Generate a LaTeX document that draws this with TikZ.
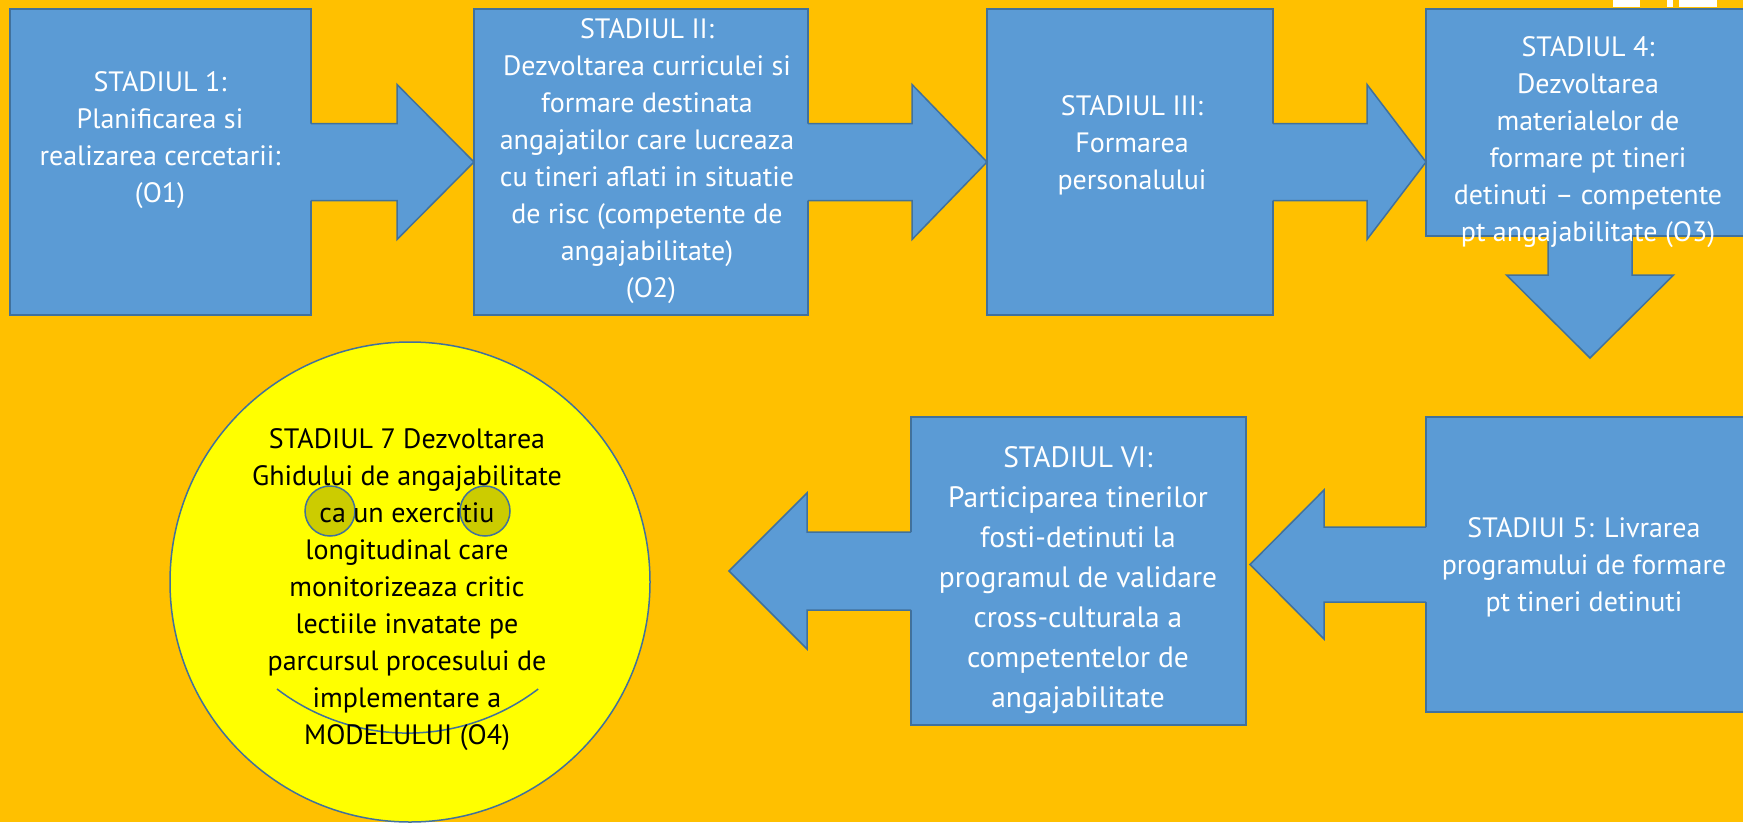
\documentclass[tikz,border=0pt]{standalone}
\usepackage{fontspec}
\setmainfont{PT Sans}
\usetikzlibrary{calc}
\definecolor{bg}{HTML}{FFC000}
\definecolor{boxblue}{HTML}{5B9BD5}
\definecolor{boxline}{HTML}{41719C}
\definecolor{eyefill}{HTML}{CCCC00}
\definecolor{faceyellow}{HTML}{FFFF00}
\begin{document}
\begin{tikzpicture}[x=1pt,y=1pt,
  stagebox/.style={rectangle, draw=boxline, fill=boxblue, line width=1.5pt, inner sep=0pt, outer sep=0pt},
  arrowfill/.style={fill=boxblue},
  arrowline/.style={draw=boxline, line width=1.5pt, line join=miter},
  stagetext/.style={text=white, align=center, font=\fontsize{28}{37}\selectfont, inner sep=0pt},
  facetext/.style={text=black, align=center, font=\fontsize{28}{37}\selectfont, inner sep=0pt},
  eye/.style={circle, draw=boxline, fill=eyefill, line width=1.5pt, minimum size=50pt, inner sep=0pt}]
\clip (0,0) rectangle (1743,-822);
\fill[bg] (0,0) rectangle (1743,-822);
\fill[white] (1613,0) rectangle (1640,-7);
\fill[white] (1667,0) rectangle (1673,-7);
\fill[white] (1679,0) rectangle (1717,-7);

% boxes
\node[stagebox, minimum width=301pt, minimum height=306pt] (b1) at (160.5,-162) {};
\node[stagebox, minimum width=334pt, minimum height=306pt] (b2) at (641,-162) {};
\node[stagebox, minimum width=286pt, minimum height=306pt] (b3) at (1130,-162) {};
\node[stagebox, minimum width=334pt, minimum height=227pt] (b4) at (1593,-122.5) {};
\node[stagebox, minimum width=334pt, minimum height=295pt] (b5) at (1593,-564.5) {};
\node[stagebox, minimum width=335pt, minimum height=308pt] (b6) at (1078.5,-571) {};

% arrow 1 -> 2
\fill[arrowfill] ($(b1.east)+(-4,38.5)$) -- ++(90,0) -- ++(0,39) -- (b2.west) -- ++(-77,-77.5) -- ++(0,39) -- ++(-90,0) -- cycle;
\draw[arrowline] ($(b1.east)+(0,38.5)$) -- ++(86,0) -- ++(0,39) -- (b2.west) -- ++(-77,-77.5) -- ++(0,39) -- ++(-86,0);
% arrow 2 -> 3
\fill[arrowfill] ($(b2.east)+(-4,38.5)$) -- ++(108,0) -- ++(0,39) -- (b3.west) -- ++(-75,-77.5) -- ++(0,39) -- ++(-108,0) -- cycle;
\draw[arrowline] ($(b2.east)+(0,38.5)$) -- ++(104,0) -- ++(0,39) -- (b3.west) -- ++(-75,-77.5) -- ++(0,39) -- ++(-104,0);
% arrow 3 -> 4
\coordinate (t3) at (b4.west |- b3.east);
\fill[arrowfill] ($(b3.east)+(-4,38.5)$) -- ++(98,0) -- ++(0,39) -- (t3) -- ++(-59,-77.5) -- ++(0,39) -- ++(-98,0) -- cycle;
\draw[arrowline] ($(b3.east)+(0,38.5)$) -- ++(94,0) -- ++(0,39) -- (t3) -- ++(-59,-77.5) -- ++(0,39) -- ++(-94,0);
% arrow 4 -> 5 (down)
\coordinate (d4) at ($(b4.south)+(-3,0)$);
\coordinate (t4) at ($(d4)+(0,-122)$);
\fill[arrowfill] ($(d4)+(-42,4)$) -- ++(0,-43) -- ++(-41.5,0) -- (t4) -- ++(83.5,83) -- ++(-41.5,0) -- ++(0,43) -- cycle;
\draw[arrowline] ($(d4)+(-42,0)$) -- ++(0,-39) -- ++(-41.5,0) -- (t4) -- ++(83.5,83) -- ++(-41.5,0) -- ++(0,39);
% arrow 5 -> 6 (left)
\coordinate (t5) at ($(b6.east |- b5.west)+(4,0)$);
\fill[arrowfill] ($(b5.west)+(4,37.5)$) -- ++(-106,0) -- ++(0,37) -- (t5) -- ++(74,-74.5) -- ++(0,37) -- ++(106,0) -- cycle;
\draw[arrowline] ($(b5.west)+(0,37.5)$) -- ++(-102,0) -- ++(0,37) -- (t5) -- ++(74,-74.5) -- ++(0,37) -- ++(102,0);
% arrow 6 -> 7 (left)
\coordinate (t6) at ($(b6.west)+(-182,0)$);
\fill[arrowfill] ($(b6.west)+(4,39)$) -- ++(-108,0) -- ++(0,39) -- (t6) -- ++(78,-78) -- ++(0,39) -- ++(108,0) -- cycle;
\draw[arrowline] ($(b6.west)+(0,39)$) -- ++(-104,0) -- ++(0,39) -- (t6) -- ++(78,-78) -- ++(0,39) -- ++(104,0);

% smiley
\node[circle, draw=boxline, fill=faceyellow, line width=1.5pt, minimum size=480pt, inner sep=0pt] (face) at (410,-582) {};
\node[eye] (eyeL) at (330,-511) {};
\node[eye] (eyeR) at (485,-511) {};
\coordinate (smileL) at ($(face.center)+(-133,-107)$);
\draw[draw=boxline, line width=1.5pt] (smileL) arc[start angle=232.7, end angle=307.3, radius=215.5];

% texts
\node[stagetext] (l1) at (160,-140) {STADIUL 1:\\Planificarea si\\realizarea cercetarii:\\(O1)};
\node[stagetext] (l2) at (647,-161) {STADIUL II:\\Dezvoltarea curriculei si\\formare destinata\\angajatilor care lucreaza\\cu tineri aflati in situatie\\de risc (competente de\\angajabilitate)\\\hspace{8pt}(O2)};
\node[stagetext] (l3) at (1132,-145) {STADIUL III:\\Formarea\\personalului};
\node[stagetext] (l4) at (1588,-142) {STADIUL 4:\\Dezvoltarea\\materialelor de\\formare pt tineri\\detinuti – competente\\pt angajabilitate (O3)};
\node[stagetext] (l5) at (1584,-567) {STADIUI 5: Livrarea\\programului de formare\\pt tineri detinuti};
\node[stagetext, font=\fontsize{29.5}{40}\selectfont] (l6) at (1078,-580) {STADIUL VI:\\Participarea tinerilor\\fosti-detinuti la\\programul de validare\\cross-culturala a\\competentelor de\\angajabilitate};
\node[facetext] (l7) at (407,-590) {STADIUL 7 Dezvoltarea\\Ghidului de angajabilitate\\ca un exercitiu\\longitudinal care\\monitorizeaza critic\\lectiile invatate pe\\parcursul procesului de\\implementare a\\MODELULUI (O4)};
\end{tikzpicture}
\end{document}
